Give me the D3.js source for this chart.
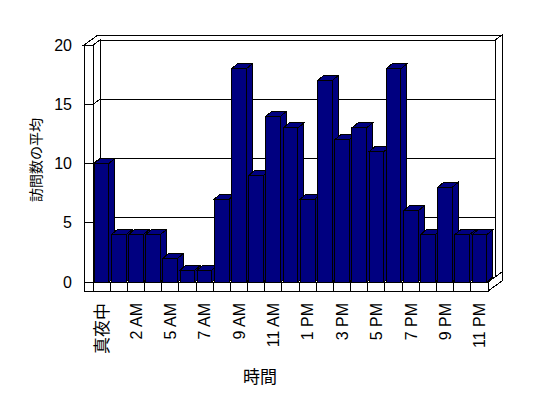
<!DOCTYPE html>
<html>
<head>
<meta charset="utf-8">
<script src="https://cdn.jsdelivr.net/npm/d3@7"></script>
<style>
  body { margin: 0; background: #fff; }
  svg { display: block; }
</style>
</head>
<body>
<div id="chart"></div>
<script>
// data
var hours = ["真夜中", "1 AM", "2 AM", "4 AM", "5 AM", "6 AM", "7 AM", "8 AM", "9 AM", "10 AM", "11 AM", "正午",
    "1 PM", "2 PM", "3 PM", "4 PM", "5 PM", "6 PM", "7 PM", "8 PM", "9 PM", "10 PM", "11 PM"];
var visits = [10, 4, 4, 4, 2, 1, 1, 7, 18, 9, 14, 13, 7, 17, 12, 13, 11, 18, 6, 4, 8, 4, 4];
var yTicks = [0, 5, 10, 15, 20];
var xTitle = "時間";
var yTitle = "訪問数の平均";

var svgWidth = 548;
var svgHeight = 398;

// front plane of the plot and the 3d offsets
var left = 93, right = 488;
var wallT = 9;       // thickness of left wall / floor
var wd = [7, -5];    // wall depth offset
var bd = [6, -5];    // bar depth offset
var barColor = "#000080";
var latin = "'Liberation Sans', Arial, 'Noto Sans CJK JP', sans-serif";
var cjk = "'Noto Sans CJK JP', sans-serif";

var svg = d3.select("#chart")
    .append("svg")
    .attr("width", svgWidth)
    .attr("height", svgHeight);

var x = d3.scaleBand()
    .domain(hours)
    .range([left, right])
    .paddingInner(0.145)
    .paddingOuter(0.07);

var y = d3.scaleLinear()
    .domain([0, 20])
    .range([282, 45]);

var step = (right - left) / hours.length;
var y0 = y(0), yMax = y(20);

function pts(arr) {
    return arr.map(p => p.join(",")).join(" ");
}

var walls = svg.append("g")
    .attr("fill", "#fff")
    .attr("stroke", "#000")
    .attr("stroke-width", 1)
    .attr("shape-rendering", "crispEdges");

// back wall front face
walls.append("rect")
    .attr("x", left + wd[0])
    .attr("y", yMax + wd[1])
    .attr("width", right - left)
    .attr("height", y0 - yMax);

// gridlines on back wall
walls.selectAll(".grid")
    .data(yTicks.filter(d => d > 0 && d < 20))
    .enter()
    .append("line")
    .attr("x1", left + wd[0])
    .attr("x2", right + wd[0])
    .attr("y1", d => y(d) + wd[1])
    .attr("y2", d => y(d) + wd[1]);

// top of left + back wall
walls.append("polygon")
    .attr("points", pts([
        [left - wallT, yMax], [left, yMax], [left + wd[0], yMax + wd[1]],
        [right + wd[0], yMax + wd[1]], [right + 2 * wd[0], yMax + 2 * wd[1]],
        [left - wallT + 2 * wd[0], yMax + 2 * wd[1]]
    ]));

// right end of back wall
walls.append("polygon")
    .attr("points", pts([
        [right + wd[0], yMax + wd[1]], [right + 2 * wd[0], yMax + 2 * wd[1]],
        [right + 2 * wd[0], y0 + 2 * wd[1]], [right + wd[0], y0 + wd[1]]
    ]));

// inner face of left wall
walls.append("polygon")
    .attr("points", pts([
        [left, yMax], [left + wd[0], yMax + wd[1]],
        [left + wd[0], y0 + wd[1]], [left, y0]
    ]));

// floor top
walls.append("polygon")
    .attr("points", pts([
        [left, y0], [right, y0], [right + wd[0], y0 + wd[1]], [left + wd[0], y0 + wd[1]]
    ]));

// floor right end
walls.append("polygon")
    .attr("points", pts([
        [right, y0], [right + wd[0], y0 + wd[1]], [right + 2 * wd[0], y0 + 2 * wd[1]],
        [right + 2 * wd[0], y0 + wallT + 2 * wd[1]], [right, y0 + wallT]
    ]));

// left wall front face
walls.append("rect")
    .attr("x", left - wallT)
    .attr("y", yMax)
    .attr("width", wallT)
    .attr("height", y0 + wallT - yMax);

// floor front face
walls.append("rect")
    .attr("x", left)
    .attr("y", y0)
    .attr("width", right - left)
    .attr("height", wallT);

// ticks on the left wall
walls.selectAll(".ytick")
    .data(yTicks)
    .enter()
    .append("polyline")
    .attr("fill", "none")
    .attr("points", d => pts([[left - wallT, y(d)], [left, y(d)], [left + wd[0], y(d) + wd[1]]]));

// dividers on the floor front
walls.selectAll(".xtick")
    .data(d3.range(1, hours.length))
    .enter()
    .append("line")
    .attr("x1", d => left + d * step)
    .attr("x2", d => left + d * step)
    .attr("y1", y0)
    .attr("y2", y0 + wallT);

// bars, drawn left to right so the next front covers the side
var bars = svg.append("g")
    .attr("fill", barColor)
    .attr("stroke", "#000")
    .attr("stroke-width", 1)
    .attr("shape-rendering", "crispEdges")
    .selectAll("g")
    .data(hours.map((h, i) => ({ hour: h, value: visits[i] })))
    .enter()
    .append("g");

bars.append("polygon")
    .attr("points", d => {
        var bx = x(d.hour) + x.bandwidth(), t = y(d.value);
        return pts([[bx, t], [bx + bd[0], t + bd[1]], [bx + bd[0], y0 + bd[1]], [bx, y0]]);
    });

bars.append("polygon")
    .attr("points", d => {
        var bx = x(d.hour), w = x.bandwidth(), t = y(d.value);
        return pts([[bx, t], [bx + bd[0], t + bd[1]], [bx + w + bd[0], t + bd[1]], [bx + w, t]]);
    });

bars.append("rect")
    .attr("x", d => x(d.hour))
    .attr("y", d => y(d.value))
    .attr("width", x.bandwidth())
    .attr("height", d => y0 - y(d.value));

// y tick labels
var leftAxis = d3.axisLeft(y)
    .tickValues(yTicks)
    .tickSize(0)
    .tickPadding(0);

var yAxis = svg.append("g")
    .attr("transform", "translate(72, 0)")
    .call(leftAxis);
yAxis.select(".domain").remove();
yAxis.selectAll("text")
    .attr("font-family", latin)
    .attr("font-size", "16px")
    .attr("fill", "#000");

// x tick labels, every other category
svg.append("g")
    .selectAll("text")
    .data(hours.filter((h, i) => i % 2 === 0))
    .enter()
    .append("text")
    .attr("transform", d => `translate(${x(d) + x.bandwidth() / 2}, 303) rotate(-90)`)
    .attr("text-anchor", "end")
    .attr("dy", "0.36em")
    .attr("font-family", d => d === "真夜中" ? cjk : latin)
    .attr("font-size", d => d === "真夜中" ? "17px" : "16px")
    .text(d => d);

// axis titles
svg.append("text")
    .attr("x", 260)
    .attr("y", 383)
    .attr("text-anchor", "middle")
    .attr("font-family", cjk)
    .attr("font-size", "17px")
    .text(xTitle);

svg.append("text")
    .attr("transform", "translate(36, 160) rotate(-90)")
    .attr("text-anchor", "middle")
    .attr("dy", "0.35em")
    .attr("font-family", cjk)
    .attr("font-size", "14px")
    .text(yTitle);
</script>
</body>
</html>
